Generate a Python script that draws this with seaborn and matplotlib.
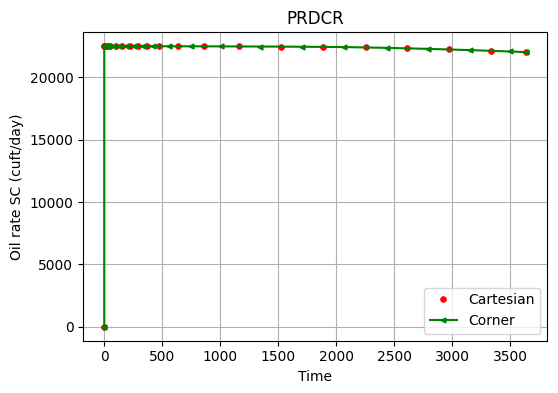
import matplotlib
matplotlib.use("Agg")
import matplotlib.pyplot as plt
import seaborn as sns
import pandas as pd

cart_time = [0, 0.1, 1, 5, 15, 30, 50, 100, 155, 225, 295, 370, 475, 640, 860,
             1160, 1525, 1885, 2255, 2615, 2975, 3335, 3640]
cart_rate = [0, 22500, 22500, 22500, 22500, 22500, 22500, 22500, 22500, 22500,
             22500, 22500, 22500, 22497, 22493, 22485, 22470, 22450, 22410,
             22330, 22240, 22140, 22030]

corner_time = [0, 0, 0.5, 3, 10, 22, 40, 75, 128, 190, 260, 333, 423, 558, 750,
               1010, 1342, 1705, 2070, 2435, 2795, 3155, 3500, 3640]
corner_rate = [0, 22500, 22500, 22500, 22500, 22500, 22500, 22500, 22500, 22500,
               22500, 22500, 22500, 22499, 22495, 22489, 22478, 22460, 22435,
               22370, 22290, 22190, 22080, 22030]

df_cart = pd.DataFrame({"Time": cart_time, "Rate": cart_rate})
df_corner = pd.DataFrame({"Time": corner_time, "Rate": corner_rate})

fig, ax = plt.subplots(figsize=(5.58, 3.93), dpi=100)
fig.subplots_adjust(left=0.149, right=0.981, top=0.918, bottom=0.133)

sns.lineplot(data=df_cart, x="Time", y="Rate", ax=ax, color="red", marker="o",
             markersize=4.2, markeredgecolor="red", markeredgewidth=0.5,
             linestyle="", estimator=None, sort=False, label="Cartesian")
sns.lineplot(data=df_corner, x="Time", y="Rate", ax=ax, color="green", marker="<",
             markersize=3.5, markeredgecolor="green", markeredgewidth=1,
             linewidth=1.5, estimator=None, sort=False, label="Corner")

ax.set_title("PRDCR", fontsize=12)
ax.set_xlabel("Time")
ax.set_ylabel("Oil rate SC (cuft/day)")
ax.grid(True, color="#b0b0b0", linewidth=0.8)
ax.set_axisbelow(True)
ax.legend(loc="lower right")

fig.savefig("out.png", dpi=100)
